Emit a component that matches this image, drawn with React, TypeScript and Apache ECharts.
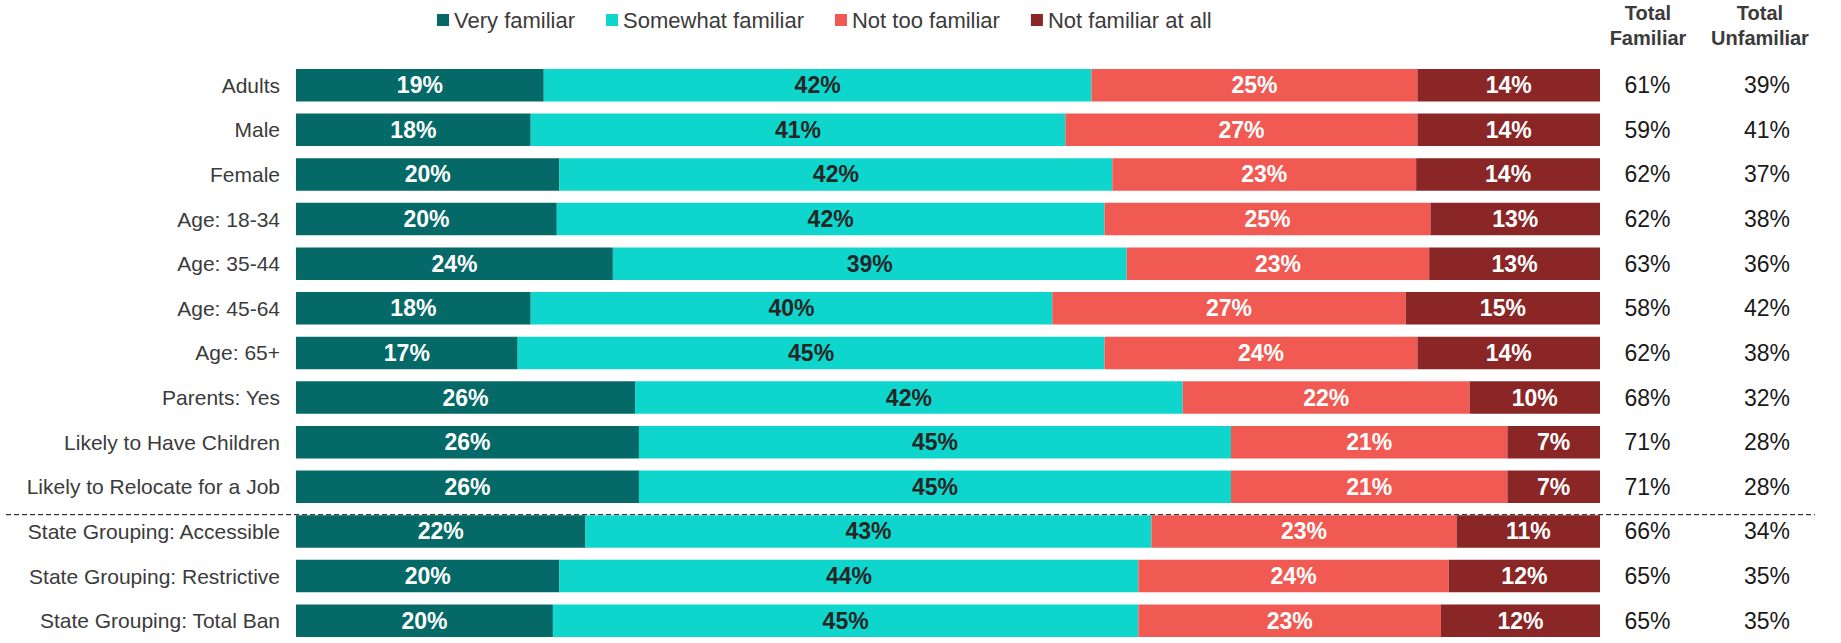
import React, { useEffect, useRef } from "react";
import * as echarts from "echarts";

const categories = [
  "Adults",
  "Male",
  "Female",
  "Age: 18-34",
  "Age: 35-44",
  "Age: 45-64",
  "Age: 65+",
  "Parents: Yes",
  "Likely to Have Children",
  "Likely to Relocate for a Job",
  "State Grouping: Accessible",
  "State Grouping: Restrictive",
  "State Grouping: Total Ban",
];
const veryFamiliar = [19, 18, 20.2, 20, 24.3, 18, 17, 26, 26.3, 26.3, 22.2, 20.2, 19.7];
const somewhatFamiliar = [42, 41, 42.4, 42, 39.4, 40, 45, 42, 45.4, 45.4, 43.4, 44.4, 44.9];
const notTooFamiliar = [25, 27, 23.3, 25, 23.2, 27.1, 24, 22, 21.2, 21.2, 23.4, 23.8, 23.2];
const notFamiliarAtAll = [14, 14, 14.1, 13, 13.1, 14.9, 14, 10, 7.1, 7.1, 11.0, 11.6, 12.2];
const totalFamiliar = [61, 59, 62, 62, 63, 58, 62, 68, 71, 71, 66, 65, 65];
const totalUnfamiliar = [39, 41, 37, 38, 36, 42, 38, 32, 28, 28, 34, 35, 35];
const seriesNames = ["Very familiar", "Somewhat familiar", "Not too familiar", "Not familiar at all"];
const seriesColors = ["#056a67", "#0fd6cd", "#f15a53", "#8a2626"];
const labelColors = ["#ffffff", "#262626", "#ffffff", "#ffffff"];
const headers = ["Total\nFamiliar", "Total\nUnfamiliar"];

const FONT = "'Liberation Sans', Arial, sans-serif";

export default function App() {
  const ref = useRef<HTMLDivElement>(null);
  useEffect(() => {
    document.body.style.margin = "0";
    document.body.style.overflow = "hidden";
    const chart = echarts.init(ref.current!, undefined, { renderer: "svg" });
    const gridTop = 62.9;
    const gridHeight = 587.3;
    const sepY = gridTop + (gridHeight * 10) / categories.length;
    const values = [veryFamiliar, somewhatFamiliar, notTooFamiliar, notFamiliarAtAll];
    chart.setOption({
      animation: false,
      backgroundColor: "#ffffff",
      textStyle: { fontFamily: FONT },
      legend: {
        left: 432,
        top: 4,
        itemWidth: 12,
        itemHeight: 12,
        itemGap: 31,
        icon: "rect",
        selectedMode: false,
        textStyle: { fontSize: 22, color: "#3b3b3b", fontFamily: FONT, lineHeight: 22 },
        data: seriesNames,
      },
      grid: { left: 296, right: 241, top: gridTop, height: gridHeight, containLabel: false },
      xAxis: { type: "value", min: 0, max: 100, show: false },
      yAxis: [
        {
          type: "category",
          inverse: true,
          data: categories,
          axisLine: { show: false },
          axisTick: { show: false },
          splitLine: { show: false },
          axisLabel: { interval: 0, margin: 16, fontSize: 21, color: "#3b3b3b", fontFamily: FONT },
        },
        {
          type: "category",
          inverse: true,
          position: "right",
          data: categories,
          axisLine: { show: false },
          axisTick: { show: false },
          splitLine: { show: false },
          axisLabel: {
            interval: 0,
            margin: 0,
            formatter: (_v: string, i: number) => `{a|${totalFamiliar[i]}%}{b|${totalUnfamiliar[i]}%}`,
            rich: {
              a: { width: 95, align: "center", fontSize: 23, color: "#1a1a1a", fontFamily: FONT },
              b: { width: 144, align: "center", fontSize: 23, color: "#1a1a1a", fontFamily: FONT },
            },
          },
        },
      ],
      series: seriesNames.map((name, k) => ({
        name,
        type: "bar",
        stack: "total",
        yAxisIndex: 0,
        barCategoryGap: "27%",
        data: values[k],
        itemStyle: { color: seriesColors[k] },
        label: {
          show: true,
          position: "inside",
          formatter: (p: any) => `${Math.round(p.value)}%`,
          fontSize: 23,
          fontWeight: "bold",
          color: labelColors[k],
          fontFamily: FONT,
        },
      })),
      graphic: [
        {
          type: "line",
          shape: { x1: 6, y1: sepY, x2: 1815, y2: sepY },
          style: { stroke: "#333333", lineWidth: 1.3, lineDash: [5, 3] },
        },
        {
          type: "text",
          x: 1648,
          y: 0,
          style: {
            text: headers[0],
            textAlign: "center",
            textVerticalAlign: "top",
            fontSize: 20,
            fontWeight: "bold",
            lineHeight: 25,
            fill: "#3b3b3b",
            fontFamily: FONT,
          },
        },
        {
          type: "text",
          x: 1760,
          y: 0,
          style: {
            text: headers[1],
            textAlign: "center",
            textVerticalAlign: "top",
            fontSize: 20,
            fontWeight: "bold",
            lineHeight: 25,
            fill: "#3b3b3b",
            fontFamily: FONT,
          },
        },
      ],
    });
    return () => chart.dispose();
  }, []);
  return (
    <div
      ref={ref}
      style={{ position: "fixed", left: 0, top: 0, width: 1841, height: 643, background: "#fff" }}
    />
  );
}
